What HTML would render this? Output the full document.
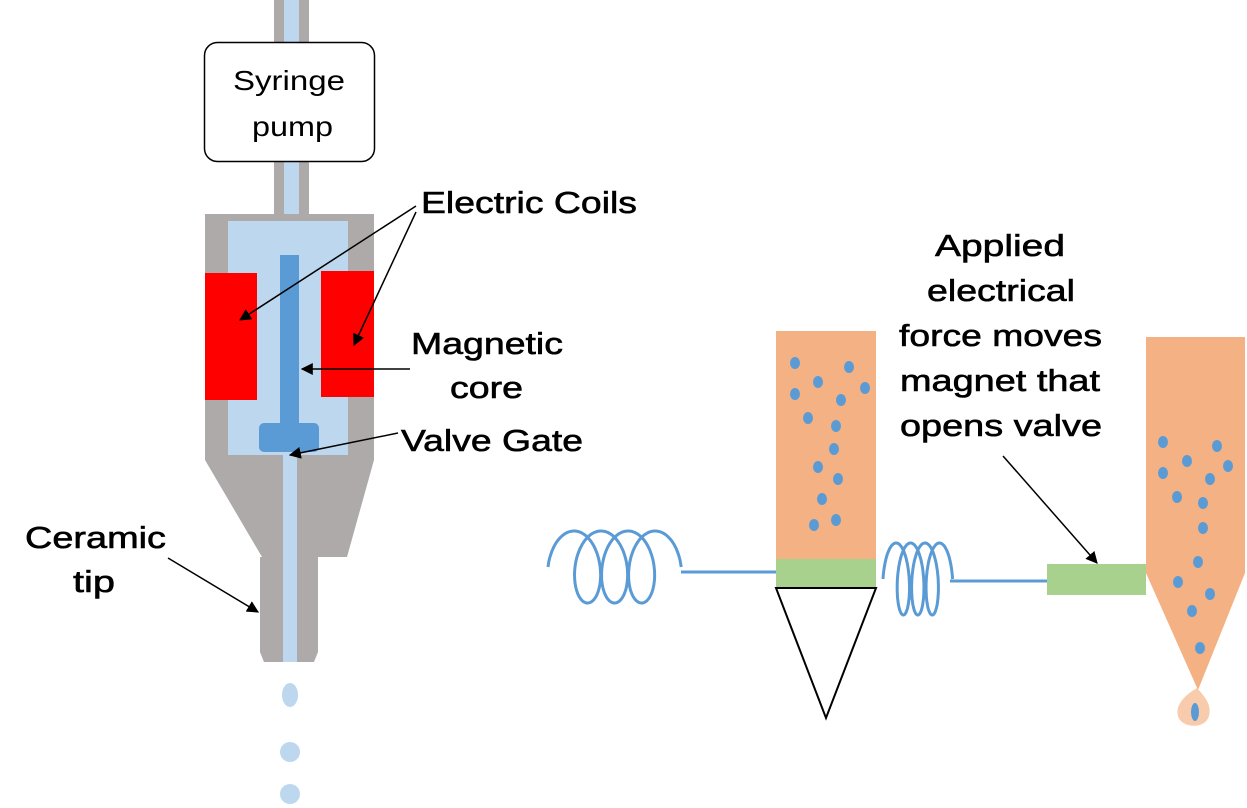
<!DOCTYPE html>
<html><head><meta charset="utf-8"><style>
html,body{margin:0;padding:0;background:#fff;}
svg{display:block;}
text{font-family:"Liberation Sans",Arial,sans-serif;fill:#000;}
.b text{stroke:#000;stroke-width:0.6;}
</style></head><body>
<svg id="s" width="1247" height="808" viewBox="0 0 1247 808" xmlns="http://www.w3.org/2000/svg">
<defs>
<marker id="ah" viewBox="0 0 10 10" refX="9" refY="5" markerWidth="12" markerHeight="12" markerUnits="userSpaceOnUse" orient="auto">
<path d="M0,0 L10,5 L0,10 z" fill="#000"/></marker>
</defs>
<rect x="274" y="0" width="35" height="42" fill="#aeaaaa"/>
<rect x="284" y="0" width="15" height="42" fill="#bdd7ee"/>
<rect x="274" y="161" width="35" height="55" fill="#aeaaaa"/>
<rect x="284" y="161" width="15" height="60" fill="#bdd7ee"/>
<path d="M205,214 L374,214 L374,460 L347,557 L318,557 L318,652 L314,662 L264,662 L260,652 L260,557 L262,557 L205,460 Z" fill="#aeaaaa"/>
<rect x="228" y="221" width="120" height="234" fill="#bdd7ee"/>
<rect x="283" y="455" width="14" height="207" fill="#bdd7ee"/>
<rect x="205" y="273" width="52" height="127" fill="#ff0000"/>
<rect x="321" y="271" width="53" height="126" fill="#ff0000"/>
<rect x="280" y="255" width="19" height="175" fill="#5b9bd5"/>
<rect x="259" y="423" width="60" height="29" rx="5" fill="#5b9bd5"/>
<rect x="204.5" y="42.5" width="170" height="119" rx="13" fill="#fff" stroke="#000" stroke-width="1.5"/>
<text x="233" y="90" font-size="28" textLength="112" lengthAdjust="spacingAndGlyphs">Syringe</text>
<text x="252" y="136" font-size="28" textLength="81" lengthAdjust="spacingAndGlyphs">pump</text>
<ellipse cx="290" cy="695" rx="8" ry="12" fill="#bdd7ee"/>
<circle cx="290" cy="752" r="10" fill="#bdd7ee"/>
<circle cx="290" cy="794" r="10" fill="#bdd7ee"/>
<g font-size="31" class="b">
<text x="421" y="213" textLength="216" lengthAdjust="spacingAndGlyphs">Electric Coils</text>
<text x="411" y="354" textLength="152" lengthAdjust="spacingAndGlyphs">Magnetic</text>
<text x="450" y="398" textLength="73" lengthAdjust="spacingAndGlyphs">core</text>
<text x="401" y="451" textLength="182" lengthAdjust="spacingAndGlyphs">Valve Gate</text>
<text x="25" y="548" textLength="141" lengthAdjust="spacingAndGlyphs">Ceramic</text>
<text x="73" y="592" textLength="42" lengthAdjust="spacingAndGlyphs">tip</text>
<text x="935" y="256" textLength="130" lengthAdjust="spacingAndGlyphs">Applied</text>
<text x="927" y="301" textLength="148" lengthAdjust="spacingAndGlyphs">electrical</text>
<text x="899" y="346" textLength="203" lengthAdjust="spacingAndGlyphs">force moves</text>
<text x="900" y="391" textLength="200" lengthAdjust="spacingAndGlyphs">magnet that</text>
<text x="900" y="436" textLength="202" lengthAdjust="spacingAndGlyphs">opens valve</text>
</g>
<g stroke="#000" stroke-width="1.5" fill="none" marker-end="url(#ah)">
<line x1="416" y1="206" x2="240" y2="320"/>
<line x1="416" y1="212" x2="354" y2="345"/>
<line x1="410" y1="369" x2="302" y2="369"/>
<line x1="398" y1="433" x2="290" y2="455"/>
<line x1="168" y1="558" x2="258" y2="612"/>
<line x1="1003" y1="456" x2="1097" y2="563"/>
</g>
<rect x="776" y="331" width="100" height="228" fill="#f4b183"/>
<rect x="776" y="559" width="100" height="29" fill="#a9d18e"/>
<path d="M776,588 L876,588 L826,718 Z" fill="#fff" stroke="#000" stroke-width="2"/>
<line x1="681" y1="572" x2="776" y2="572" stroke="#5b9bd5" stroke-width="3"/>
<line x1="950" y1="581" x2="1047" y2="581" stroke="#5b9bd5" stroke-width="3"/>
<rect x="1047" y="564" width="99" height="31" fill="#a9d18e"/>
<path d="M1146,337 L1245,337 L1245,573 L1198,690 L1146,573 Z" fill="#f4b183"/>
<path d="M1197,688 C1185,695 1175,705 1178,716 C1181,728 1205,730 1209,716 C1212,704 1204,696 1197,688 Z" fill="#f8cbad"/>
<ellipse cx="1195" cy="712" rx="4" ry="9" fill="#5b9bd5"/>
<path id="c1" fill="none" stroke="#5b9bd5" stroke-width="3"/>
<path id="c2" fill="none" stroke="#5b9bd5" stroke-width="3"/>
<g fill="#5b9bd5" id="dots"></g>
</svg>
<script>
function coil(x0,k,R,yc,H,tmax){var d='';for(var i=0;i<=600;i++){var t=tmax*i/600;var x=x0+k*t-R*Math.cos(t),y=yc-H*Math.sin(t);d+=(i?'L':'M')+x.toFixed(1)+','+y.toFixed(1);}return d;}
document.getElementById('c1').setAttribute('d',coil(567.3,4.3,19.3,567,36,7*Math.PI));
document.getElementById('c2').setAttribute('d',coil(892.5,2.3,9.5,579,36,7*Math.PI));
var pts=[[795,363],[849,367],[818,382],[865,388],[795,394],[841,400],[808,418],[836,426],[834,449],[818,467],[838,479],[822,499],[836,520],[814,525],
[1163,442],[1217,446],[1187,461],[1163,473],[1210,479],[1228,466],[1177,497],[1203,503],[1203,528],[1198,562],[1178,582],[1210,594],[1192,611],[1200,648]];
var g=document.getElementById('dots'),h='';
pts.forEach(function(p){h+='<ellipse cx="'+p[0]+'" cy="'+p[1]+'" rx="5" ry="6"/>';});
g.innerHTML=h;
</script>
</body></html>
